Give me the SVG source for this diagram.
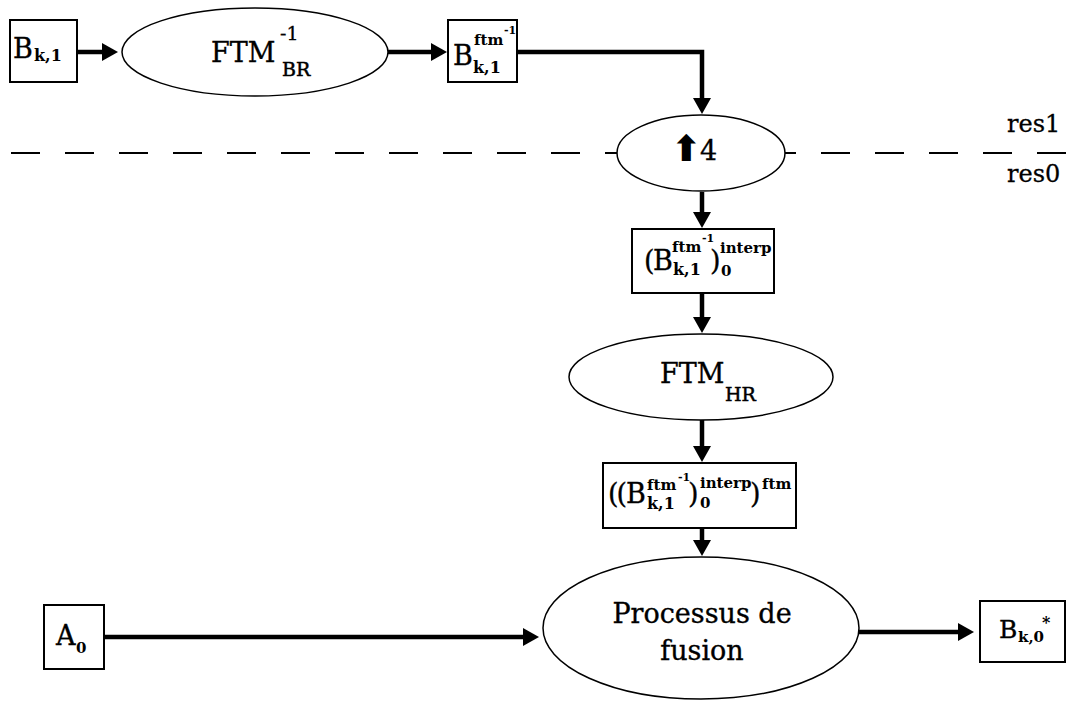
<svg xmlns="http://www.w3.org/2000/svg" width="1069" height="702" viewBox="0 0 1069 702">
<style>
text{font-family:"DejaVu Serif","Liberation Serif",serif;fill:#000}
.m{font-size:27px;stroke:#000;stroke-width:0.35}
.b{font-weight:bold;font-size:15px}
.s{font-size:16px;font-weight:bold}
.t{font-size:11px;font-weight:bold}
.box{fill:#fff;stroke:#000;stroke-width:2}
.ell{fill:#fff;stroke:#000;stroke-width:1.5}
.c{fill:none;stroke:#000;stroke-width:4.5}
.dash{fill:none;stroke:#000;stroke-width:2;stroke-dasharray:29 25}
</style>
<defs>
<marker id="ah" markerUnits="userSpaceOnUse" markerWidth="18" markerHeight="20" refX="6" refY="9" orient="auto">
<path d="M0,0 L16,9 L0,18 z" fill="#000"/>
</marker>
</defs>
<rect width="1069" height="702" fill="#fff"/>
<line class="dash" x1="11" y1="153" x2="1069" y2="153"/>
<g id="connectors">
<path class="c" d="M77,52 H108" marker-end="url(#ah)"/>
<path class="c" d="M388,52 H437" marker-end="url(#ah)"/>
<path class="c" d="M517,52 H702 V104" marker-end="url(#ah)"/>
<path class="c" d="M702,192 V218" marker-end="url(#ah)"/>
<path class="c" d="M702,294 V323" marker-end="url(#ah)"/>
<path class="c" d="M702,420 V452" marker-end="url(#ah)"/>
<path class="c" d="M702,528 V546" marker-end="url(#ah)"/>
<path class="c" d="M104,637 H529" marker-end="url(#ah)"/>
<path class="c" d="M859,632 H964" marker-end="url(#ah)"/>
</g>
<g id="n-bk1">
<rect class="box" x="10" y="20" width="67" height="62"/>
<text class="m" x="13" y="58">B</text><text class="s" x="34" y="61">k,1</text>
</g>
<g id="n-ftmbr">
<ellipse class="ell" cx="255" cy="52" rx="133" ry="44"/>
<text class="m" x="211" y="62" style="font-size:27px">FTM</text>
<text x="280" y="40" style="font-size:19px;stroke:#000;stroke-width:0.3">-1</text>
<text x="282" y="76" style="font-size:19px;stroke:#000;stroke-width:0.5">BR</text>
</g>
<g id="n-bftm">
<rect class="box" x="448" y="20" width="69" height="62"/>
<text class="m" x="453" y="65">B</text>
<text class="b" x="474" y="45">ftm</text>
<text class="t" x="504" y="34">-1</text>
<text class="s" x="473" y="73">k,1</text>
</g>
<g id="n-up4">
<ellipse class="ell" cx="701" cy="153" rx="84" ry="38"/>
<text x="686" y="161" text-anchor="middle" style="font-family:'DejaVu Sans',sans-serif;font-size:36px;font-weight:bold">⬆</text>
<text class="m" x="700" y="160" style="font-size:27px">4</text>
</g>
<g id="n-interp">
<rect class="box" x="632" y="229" width="142" height="64"/>
<text class="m" x="644" y="270">(</text>
<text class="m" x="653" y="270">B</text>
<text class="b" x="672" y="252">ftm</text>
<text class="t" x="702" y="242">-1</text>
<text class="s" x="673" y="275">k,1</text>
<text class="m" x="710" y="270">)</text>
<text class="b" x="720" y="253">interp</text>
<text class="b" x="721" y="276">0</text>
</g>
<g id="n-ftmhr">
<ellipse class="ell" cx="701" cy="377" rx="132" ry="43"/>
<text class="m" x="660" y="383" style="font-size:27px">FTM</text>
<text x="725" y="401" style="font-size:19px;stroke:#000;stroke-width:0.5">HR</text>
</g>
<g id="n-interpftm">
<rect class="box" x="603" y="463" width="193" height="65"/>
<text class="m" x="608" y="503" style="letter-spacing:-2px">((</text>
<text class="m" x="626" y="503">B</text>
<text class="b" x="647" y="490">ftm</text>
<text class="t" x="678" y="481">-1</text>
<text class="s" x="647" y="509">k,1</text>
<text class="m" x="688" y="503">)</text>
<text class="b" x="700" y="488">interp</text>
<text class="b" x="700" y="508">0</text>
<text class="m" x="750" y="503">)</text>
<text class="b" x="762" y="489">ftm</text>
</g>
<g id="n-fusion">
<ellipse class="ell" cx="701" cy="628" rx="158" ry="71"/>
<text class="m" x="702" y="623" text-anchor="middle">Processus de</text>
<text class="m" x="702" y="660" text-anchor="middle">fusion</text>
</g>
<g id="n-a0">
<rect class="box" x="44" y="605" width="60" height="64"/>
<text class="m" x="56" y="645">A</text>
<text class="b" x="76" y="653">0</text>
</g>
<g id="n-bk0">
<rect class="box" x="980" y="601" width="85" height="61"/>
<text class="m" x="999" y="638" style="font-size:25px">B</text>
<text class="b" x="1018" y="642">k,0</text>
<text class="s" x="1042" y="628">*</text>
</g>
<g id="labels">
<text x="1007" y="132" style="font-size:24px;stroke:#000;stroke-width:0.3">res1</text>
<text x="1007" y="182" style="font-size:24px;stroke:#000;stroke-width:0.3">res0</text>
</g>
</svg>
